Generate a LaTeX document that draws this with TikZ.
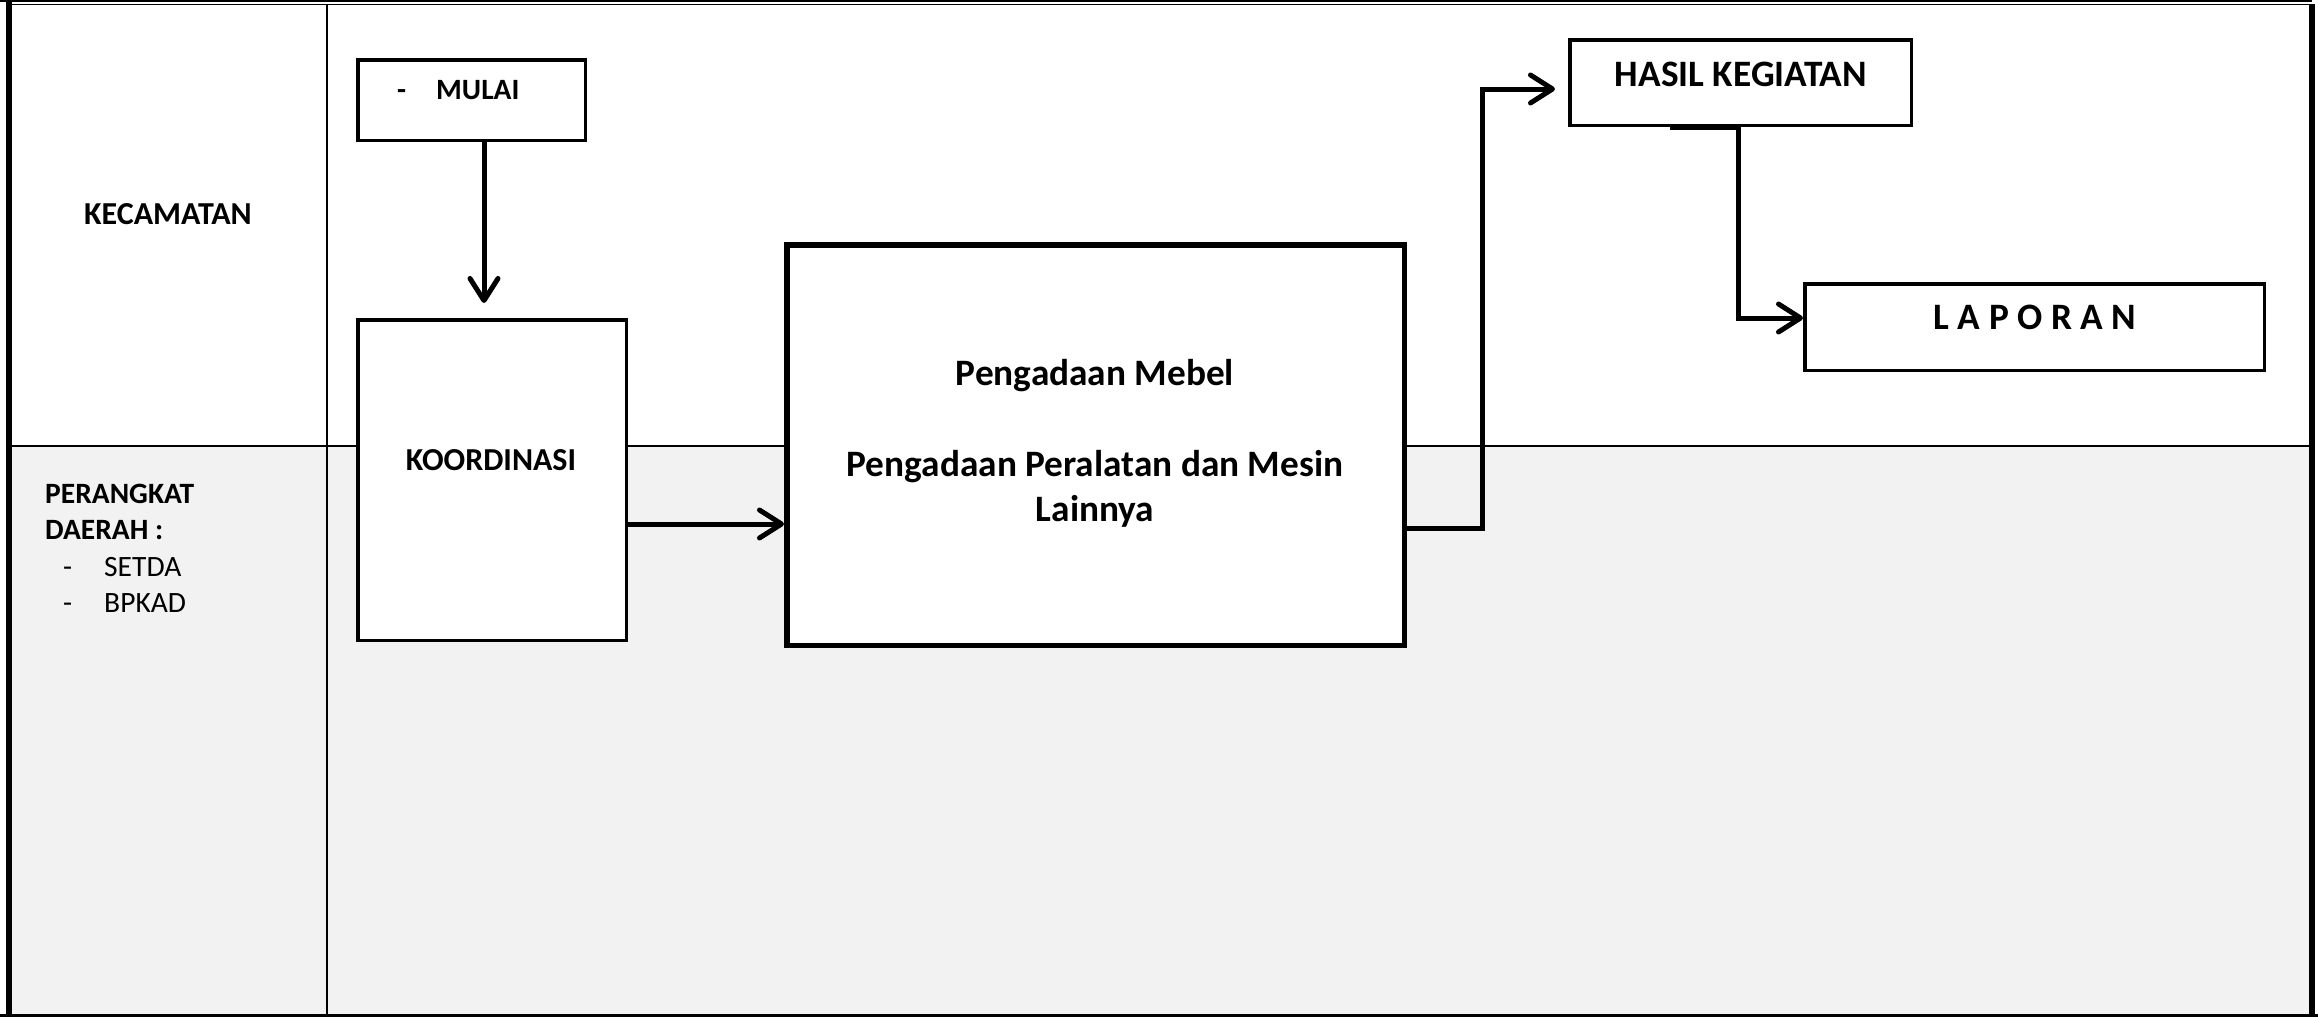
\documentclass[tikz,border=0pt]{standalone}
\usepackage{fontspec}
\setmainfont{Carlito}
\usetikzlibrary{arrows.meta}
\definecolor{rowgray}{HTML}{F2F2F2}
\newcommand{\txtS}{\fontsize{29.5}{36.3}\selectfont}
\newcommand{\txtM}{\fontsize{32}{38}\selectfont}
\newcommand{\txtL}{\fontsize{37.3}{42}\selectfont}
\begin{document}
\begin{tikzpicture}[x=1pt,y=-1pt,
  frameline/.style={line width=2pt},
  box/.style={draw, line width=3.5pt, fill=white, inner sep=0pt},
  bigbox/.style={draw, line width=5.5pt, fill=white, inner sep=0pt},
  lbl/.style={inner sep=0pt, anchor=base, font=\txtM\bfseries},
  biglbl/.style={inner sep=0pt, anchor=base, font=\txtL\bfseries},
  arr/.style={line width=5pt, -{Straight Barb[length=22pt,width=28pt,round]}}]
\useasboundingbox (0,0) rectangle (2318,1017);
% background rows
\fill[white] (0,0) rectangle (2318,1017);
\fill[rowgray] (12,447) rectangle (2309,1014);
% frame
\draw[line width=2pt] (0,1) -- (2312,1);
\draw[line width=1.7pt] (6,4.5) -- (2312,4.5);
\draw[line width=6pt] (9,0) -- (9,1017);
\draw[line width=6pt] (2312,4) -- (2312,1017);
\draw[line width=3pt] (0,1015.5) -- (2318,1015.5);
\draw[frameline] (327,5) -- (327,1015);
\draw[frameline] (9,446) -- (2312,446);
% lane labels
\node[lbl] (kec) at (168,224) {KECAMATAN};
\node[inner sep=0pt, anchor=north west, align=left, font=\txtS] (perangkat) at (45,484)
  {\textbf{PERANGKAT}\\\textbf{DAERAH :}\\\hspace*{18pt}-\hspace*{32pt}SETDA\\\hspace*{18pt}-\hspace*{32pt}BPKAD};
% boxes
\node[box, minimum width=227.5pt, minimum height=80.5pt] (mulai) at (471.5,100) {};
\node[inner sep=0pt, anchor=base west, font=\txtS\bfseries] (mulaiT) at (397,99) {-\hspace*{30pt}MULAI};
\node[box, minimum width=268.5pt, minimum height=320.5pt] (koor) at (492,480) {};
\node[lbl] (koorT) at (491,470) {KOORDINASI};
\node[bigbox, minimum width=617.5pt, minimum height=400.5pt] (big) at (1095.5,445) {};
\node[biglbl] (bigT1) at (1095,385) {Pengadaan Mebel};
\node[biglbl] (bigT2) at (1095,476.5) {Pengadaan Peralatan dan Mesin};
\node[biglbl] (bigT3) at (1095,521) {Lainnya};
\node[box, minimum width=341.5pt, minimum height=85.5pt] (hasil) at (1740.5,82.5) {};
\node[biglbl] (hasilT) at (1741,86) {HASIL KEGIATAN};
\node[box, minimum width=459.5pt, minimum height=86.5pt] (lap) at (2034.5,327) {};
\node[biglbl] (lapT) at (2035,329) {L\hspace*{8.5pt}A\hspace*{8.5pt}P\hspace*{8.5pt}O\hspace*{8.5pt}R\hspace*{8.5pt}A\hspace*{8.5pt}N};
% connectors
\coordinate (a1) at (484,303);
\draw[arr] (mulai.south -| a1) -- (a1);
\coordinate (k1) at ([yshift=-44pt]koor.east);
\draw[arr] (k1) -- (k1 -| big.west);
\coordinate (b1) at ([yshift=-83pt]big.east);
\coordinate (v1) at (1482,0);
\coordinate (h1) at (1555,89);
\draw[arr] (b1) -- (b1 -| v1) -- (v1 |- h1) -- (h1);
\coordinate (h2) at (1738.5,0);
\coordinate (hs) at (1670,0);
\draw[line width=5.5pt] (hasil.south -| hs) -- (hasil.south -| h2);
\coordinate (l1) at ([yshift=9pt]lap.west);
\draw[arr] (hasil.south -| h2) |- (l1);
\end{tikzpicture}
\end{document}
